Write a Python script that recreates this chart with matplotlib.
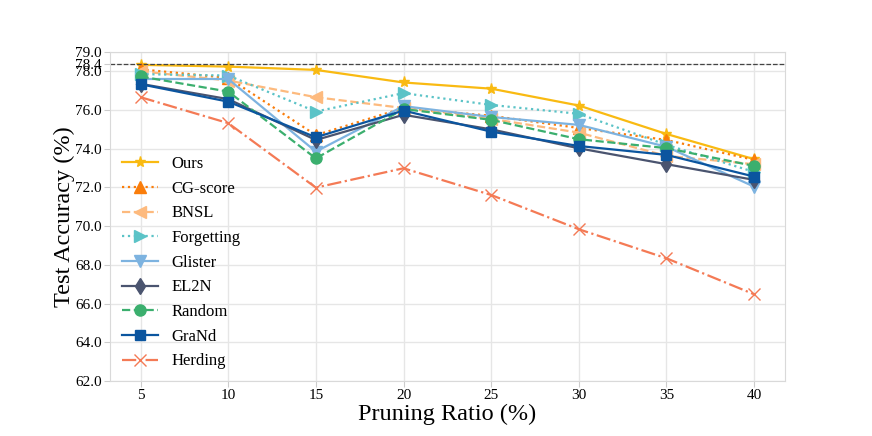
import numpy as np
import matplotlib.pyplot as plt

# データ
ratios = [5, 10, 15, 20, 25, 30, 35, 40]
ours = [78.33, 78.24, 78.07, 77.42, 77.10, 76.23, 74.76, 73.46]
cg_score = [78.10, 77.66, 74.70, 76.10, 75.70, 75.07, 74.45, 73.42]
bnsl = [78.00, 77.52, 76.66, 76.10, 75.54, 74.83, 73.63, 73.20]
forgetting = [77.85, 77.78, 75.92, 76.87, 76.26, 75.80, 74.20, 72.80]
glister = [77.60, 77.60, 73.85, 76.20, 75.64, 75.23, 74.10, 72.04]
el2n = [77.35, 76.56, 74.45, 75.75, 75.00, 74.02, 73.20, 72.39]
random_sel = [77.73, 76.95, 73.50, 76.05, 75.49, 74.49, 74.03, 73.11]
grand = [77.33, 76.43, 74.59, 75.97, 74.88, 74.14, 73.68, 72.56]
herding = [76.66, 75.32, 71.99, 72.99, 71.61, 69.84, 68.34, 66.48]
baseline = 78.4

yticks = [62, 64, 66, 68, 70, 72, 74, 76, 78, 78.4, 79]

plt.rcParams['font.family'] = ['Liberation Serif', 'DejaVu Serif']

fig = plt.figure(figsize=(8.72, 4.36), dpi=100)
ax = fig.add_axes([0.126, 0.126, 0.774, 0.755])

series = [
    ('Ours', ours, '#F9BA12', '-', '*', 8),
    ('CG-score', cg_score, '#FA7D0A', ':', '^', 8),
    ('BNSL', bnsl, '#FDBA7E', '--', '<', 8),
    ('Forgetting', forgetting, '#5BC3C7', ':', '>', 8),
    ('Glister', glister, '#7DB3E0', '-', 'v', 8),
    ('EL2N', el2n, '#4A546F', '-', 'd', 8),
    ('Random', random_sel, '#3BAF6E', '--', 'o', 8),
    ('GraNd', grand, '#0B559F', '-', 's', 7),
    ('Herding', herding, '#F47A55', '-.', 'x', 8),
]
for name, vals, c, ls, mk, ms in series:
    ax.plot(ratios, vals, color=c, linestyle=ls, marker=mk, markersize=ms,
            linewidth=1.6, label=name)

ax.axhline(baseline, color='#444444', linestyle='--', linewidth=0.9)

ax.set_ylim(62, 79)
ax.set_xlim(3.25, 41.75)
ax.set_xticks(ratios)
ax.set_yticks(yticks)
ax.set_yticklabels(['%.1f' % v for v in yticks])
ax.tick_params(labelsize=11, color='#cccccc', length=4, pad=2)

ax.grid(True, color='#e6e6e6', linewidth=1.0)
ax.set_axisbelow(True)
for s in ax.spines.values():
    s.set_color('#d9d9d9')

ax.set_xlabel('Pruning Ratio (%)', fontsize=17.5, labelpad=1)
ax.set_ylabel('Test Accuracy (%)', fontsize=17.5, labelpad=0)

ax.legend(loc='lower left', fontsize=12, frameon=False, handlelength=2.2,
          labelspacing=0.52, borderaxespad=0.3, bbox_to_anchor=(0.0, 0.0))

fig.savefig('out.png', dpi=100)
